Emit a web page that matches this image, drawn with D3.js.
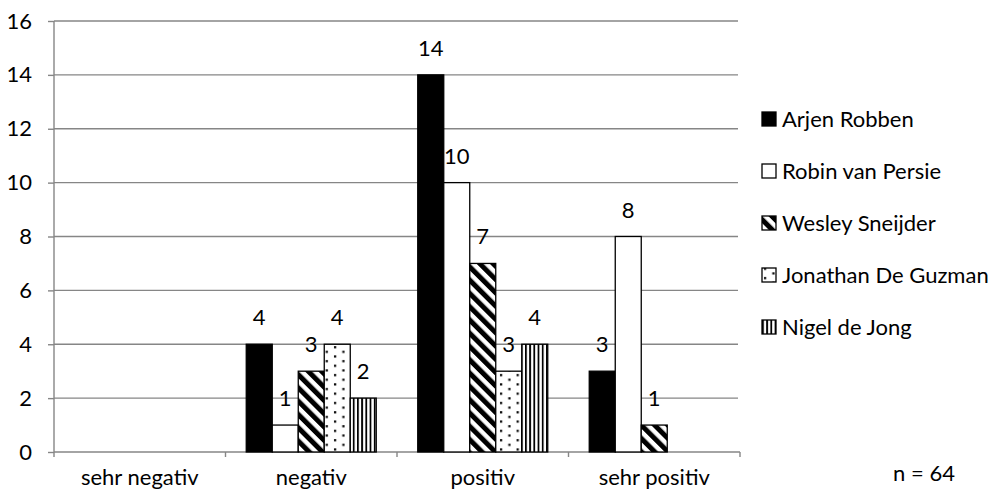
<!DOCTYPE html>
<html>
<head>
<meta charset="utf-8">
<script src="https://cdn.jsdelivr.net/npm/d3@7"></script>
<style>
  body { margin: 0; background: #fff; }
  text { font-family: Lato, "Noto Sans", sans-serif; fill: #000; }
</style>
</head>
<body>
<svg id="chart" width="990" height="491"></svg>
<script>
// Survey answers per player and rating
const categories = ["sehr negativ", "negativ", "positiv", "sehr positiv"];
const players = ["Arjen Robben", "Robin van Persie", "Wesley Sneijder", "Jonathan De Guzman", "Nigel de Jong"];
const robben   = [0, 4, 14, 3];
const persie   = [0, 1, 10, 8];
const sneijder = [0, 3, 7, 1];
const guzman   = [0, 4, 3, 0];
const jong     = [0, 2, 4, 0];
const yTicks = [0, 2, 4, 6, 8, 10, 12, 14, 16];
const sampleNote = "n = 64";

const seriesValues = [robben, persie, sneijder, guzman, jong];
const fills = ["#000", "#fff", "url(#pat-diag)", "url(#pat-dots)", "url(#pat-vert)"];

const svg = d3.select("#chart");
const fontSize = 22;
const gridColor = "#868686";

// patterns for the hatched series
const defs = svg.append("defs");
const diag = defs.append("pattern").attr("id", "pat-diag")
  .attr("patternUnits", "userSpaceOnUse").attr("width", 9.4).attr("height", 9.4)
  .attr("patternTransform", "rotate(-45)");
diag.append("rect").attr("width", 9.4).attr("height", 9.4).attr("fill", "#fff");
diag.append("rect").attr("width", 5).attr("height", 9.4).attr("fill", "#000");

const dots = defs.append("pattern").attr("id", "pat-dots")
  .attr("patternUnits", "userSpaceOnUse").attr("width", 16.6).attr("height", 9.3);
dots.append("rect").attr("width", 16.6).attr("height", 9.3).attr("fill", "#fff");
dots.append("rect").attr("x", 2).attr("y", 2).attr("width", 2.2).attr("height", 2.2).attr("fill", "#000");
dots.append("rect").attr("x", 10.3).attr("y", 6.65).attr("width", 2.2).attr("height", 2.2).attr("fill", "#000");

const vert = defs.append("pattern").attr("id", "pat-vert")
  .attr("patternUnits", "userSpaceOnUse").attr("width", 4.2).attr("height", 10);
vert.append("rect").attr("width", 4.2).attr("height", 10).attr("fill", "#fff");
vert.append("rect").attr("width", 1.8).attr("height", 10).attr("fill", "#000");

// scales
const plotLeft = 54, plotRight = 740, plotTop = 21, plotBottom = 452;
const x0 = d3.scaleBand().domain(categories).range([plotLeft, plotRight]);
const groupPad = 20.75;
const x1 = d3.scaleBand().domain(players).range([groupPad, x0.bandwidth() - groupPad]);
const y = d3.scaleLinear().domain([0, 16]).range([plotBottom, plotTop]);

// horizontal gridlines
svg.append("g").selectAll("line").data(yTicks.filter(t => t > 0)).join("line")
  .attr("x1", plotLeft).attr("x2", plotRight - 2)
  .attr("y1", d => y(d)).attr("y2", d => y(d))
  .attr("stroke", gridColor).attr("stroke-width", 1.4);

// y axis
const yAxis = svg.append("g").attr("transform", `translate(${plotLeft},0)`)
  .call(d3.axisLeft(y).tickValues(yTicks).tickSize(6).tickPadding(16));
yAxis.select(".domain").remove();
yAxis.selectAll(".tick line").attr("stroke", gridColor).attr("stroke-width", 1.4);
yAxis.selectAll(".tick text").attr("font-size", fontSize).attr("font-family", "Lato, 'Noto Sans', sans-serif");
svg.append("line").attr("x1", plotLeft).attr("x2", plotLeft).attr("y1", plotTop).attr("y2", plotBottom + 5)
  .attr("stroke", gridColor).attr("stroke-width", 1.4);

// x axis with boundary ticks
const xAxis = svg.append("g").attr("transform", `translate(0,${plotBottom})`)
  .call(d3.axisBottom(x0).tickSize(0).tickPadding(17));
xAxis.select(".domain").remove();
xAxis.selectAll(".tick text").attr("font-size", fontSize).attr("font-family", "Lato, 'Noto Sans', sans-serif");
svg.append("line").attr("x1", plotLeft).attr("x2", plotRight).attr("y1", plotBottom).attr("y2", plotBottom)
  .attr("stroke", gridColor).attr("stroke-width", 1.4);
const bounds = categories.map(c => x0(c)).concat([plotRight]);
svg.append("g").selectAll("line").data(bounds.slice(1)).join("line")
  .attr("x1", d => d).attr("x2", d => d).attr("y1", plotBottom).attr("y2", plotBottom + 5)
  .attr("stroke", gridColor).attr("stroke-width", 1.4);

// bars
const barData = [];
categories.forEach((c, ci) => {
  players.forEach((p, pi) => {
    barData.push({ cat: c, player: p, idx: pi, value: seriesValues[pi][ci] });
  });
});
const shown = barData.filter(d => d.value > 0);

svg.append("g").selectAll("rect").data(shown).join("rect")
  .attr("x", d => x0(d.cat) + x1(d.player))
  .attr("y", d => y(d.value))
  .attr("width", x1.bandwidth())
  .attr("height", d => y(0) - y(d.value))
  .attr("fill", d => fills[d.idx])
  .attr("stroke", "#000").attr("stroke-width", 1.3);

// value labels
svg.append("g").selectAll("text").data(shown).join("text")
  .attr("x", d => x0(d.cat) + x1(d.player) + x1.bandwidth() / 2)
  .attr("y", d => y(d.value) - 19)
  .attr("text-anchor", "middle")
  .attr("font-size", fontSize)
  .text(d => d.value);

// legend
const legend = svg.append("g").attr("transform", "translate(762,119)");
const rows = legend.selectAll("g").data(players).join("g")
  .attr("transform", (d, i) => `translate(0,${i * 52})`);
rows.append("rect").attr("x", 0).attr("y", -7).attr("width", 14).attr("height", 14)
  .attr("fill", (d, i) => fills[i]).attr("stroke", "#000").attr("stroke-width", 1.3);
rows.append("text").attr("x", 20).attr("y", 0).attr("dy", "0.35em")
  .attr("font-size", fontSize).text(d => d);

// sample size note
svg.append("text").attr("x", 924).attr("y", 481).attr("text-anchor", "middle")
  .attr("font-size", fontSize).text(sampleNote);
</script>
</body>
</html>
